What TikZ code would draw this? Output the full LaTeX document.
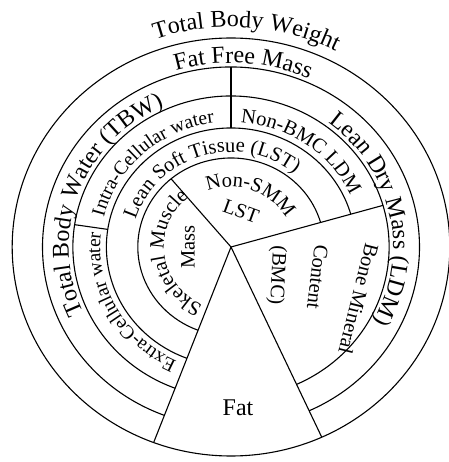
\documentclass[tikz,border=0pt]{standalone}
\usepackage{fontspec}
\setmainfont{Liberation Serif}
\usetikzlibrary{decorations.text}

\newcommand\bigtxt{\fontsize{24}{28}\selectfont}
\newcommand\midtxt{\fontsize{20.5}{24}\selectfont}
\newcommand\smalltxt{\fontsize{19.5}{23}\selectfont}

\begin{document}
\begin{tikzpicture}[x=1.047pt, y=1pt, line width=1.1pt,
    along/.style={decorate, decoration={text along path, text align=center, text={#1}}}]
    \useasboundingbox (-231pt,-215pt) rectangle (217pt,247pt);
    \coordinate (O) at (0,0);

    % Rings
    \draw (O) circle[radius=209];
    \draw (-65.5:180) arc[start angle=-65.5, end angle=249.3, radius=180];
    \draw (-65.5:151) arc[start angle=-65.5, end angle=249.3, radius=151];
    \draw (16:119) arc[start angle=16, end angle=249.3, radius=119];
    \draw (16:89) arc[start angle=16, end angle=249.3, radius=89];

    % Dividers
    \draw (O) -- (249.3:209);
    \draw (O) -- (-65.5:209);
    \draw (O) -- (16:151);
    \draw (O) -- (130:89);
    \draw (90:119) -- (90:180);
    \draw (171.5:119) -- (171.5:151);

    % Outer labels
    \path[along={|\bigtxt|Total Body Weight}] (126:220) arc[start angle=126, end angle=46, radius=220];
    \path[along={|\bigtxt|Fat Free Mass}] (126.3:184) arc[start angle=126.3, end angle=46.3, radius=184];
    \path[along={|\bigtxt|Total Body Water (TBW)}] (230:155) arc[start angle=230, end angle=90, radius=155];
    \path[along={|\bigtxt|Lean Dry Mass (LDM)}] (82:155) arc[start angle=82, end angle=-58, radius=155];

    % Middle ring
    \path[along={|\smalltxt|Intra-Cellular water}] (200.4:125) arc[start angle=200.4, end angle=64.4, radius=125];
    \path[along={|\smalltxt|Extra-Cellular water}] (276:125) arc[start angle=276, end angle=142, radius=125];
    \path[along={|\midtxt|Non-BMC LDM}] (114.4:125) arc[start angle=114.4, end angle=-5.6, radius=125];
    \path[along={|\midtxt|Lean Soft Tissue (LST)}] (187:95) arc[start angle=187, end angle=27, radius=95];

    % Inner labels
    \path[along={|\midtxt|Non-SMM}] (130:60) arc[start angle=130, end angle=10, radius=60];
    \path[along={|\midtxt|Skeletal Muscle}] (252:64) arc[start angle=252, end angle=122, radius=64];
    \node[rotate=-104, font=\midtxt] (bone) at (122,-52) {Bone Mineral};
    \node[rotate=-20, font=\midtxt] (lst) at (75:37) {LST};
    \node[rotate=90, font=\midtxt] (mass) at (180:41) {Mass};
    \node[rotate=-97, font=\midtxt] (content) at (-20:88) {Content};
    \node[rotate=-93, font=\midtxt] (bmc) at (-33:52) {(BMC)};
    \node[font=\bigtxt] (fat) at (6.7,-161) {Fat};
\end{tikzpicture}
\end{document}
